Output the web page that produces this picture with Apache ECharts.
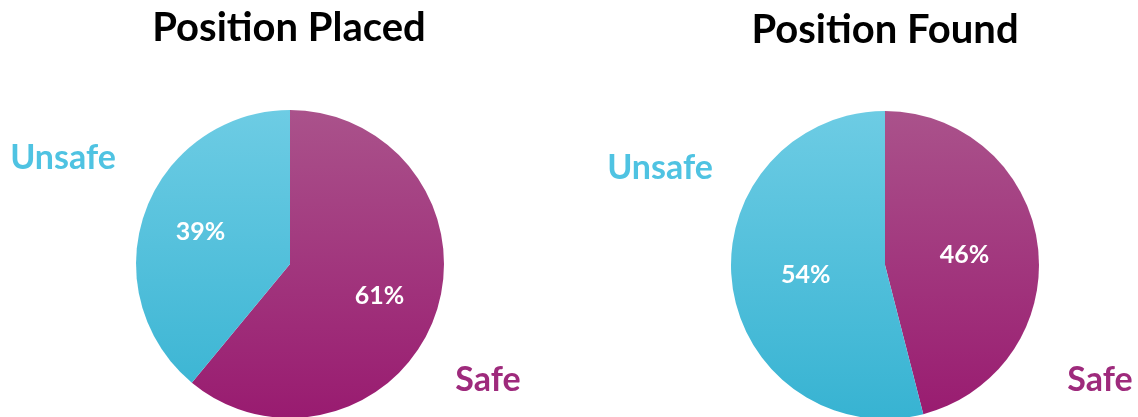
<!DOCTYPE html>
<html>
<head>
<meta charset="utf-8">
<script src="https://cdn.jsdelivr.net/npm/echarts@6/dist/echarts.min.js"></script>
<style>
html,body{margin:0;padding:0;background:#fff;}
#c{width:1138px;height:417px;}
</style>
</head>
<body>
<div id="c"></div>
<script>
// Data
const titles = ['Position Placed', 'Position Found'];
const categories = ['Safe', 'Unsafe'];
const placedValues = [61, 39];
const foundValues = [46, 54];

const FONT = 'Lato, "Open Sans", sans-serif';
const safeTop = '#aa528b', safeBottom = '#991b70';
const unsafeTop = '#6dcce4', unsafeBottom = '#37b3d2';

function grad(top, bottom, cy, r) {
  return { type: 'linear', x: 0, y: cy - r, x2: 0, y2: cy + r, global: true,
    colorStops: [{ offset: 0, color: top }, { offset: 1, color: bottom }] };
}

const pies = [
  { cx: 290, cy: 264, r: 154, values: placedValues, labelR: [30, 154] },
  { cx: 885, cy: 265, r: 154, values: foundValues, labelR: [0, 154] }
];

const series = [];
pies.forEach(p => {
  const data = categories.map((c, i) => ({
    name: c, value: p.values[i],
    itemStyle: { color: i === 0 ? grad(safeTop, safeBottom, p.cy, p.r) : grad(unsafeTop, unsafeBottom, p.cy, p.r) }
  }));
  series.push({
    type: 'pie', center: [p.cx, p.cy], radius: [0, p.r], startAngle: 90, clockwise: true,
    silent: true, animation: false, label: { show: false }, labelLine: { show: false },
    itemStyle: { borderWidth: 0 }, data: data
  });
  series.push({
    type: 'pie', center: [p.cx, p.cy], radius: p.labelR, startAngle: 90, clockwise: true,
    silent: true, animation: false, z: 5,
    itemStyle: { color: 'rgba(0,0,0,0)', borderWidth: 0 },
    label: { show: true, position: 'inside', formatter: '{c}%', color: '#fff',
      fontFamily: FONT, fontWeight: 'bold', fontSize: 25 },
    labelLine: { show: false },
    data: categories.map((c, i) => ({ name: c, value: p.values[i] }))
  });
});

const catLabels = [
  { text: categories[1], x: 63, y: 158, color: '#4fc3e2' },
  { text: categories[0], x: 488, y: 380, color: '#9e2a7c' },
  { text: categories[1], x: 660, y: 168, color: '#4fc3e2' },
  { text: categories[0], x: 1100, y: 380, color: '#9e2a7c' }
];

const chart = echarts.init(document.getElementById('c'), null, { renderer: 'canvas' });
chart.setOption({
  backgroundColor: '#fff',
  animation: false,
  graphic: [
    { type: 'text', x: 289, y: 28, style: { text: titles[0], fill: '#000', font: 'bold 40px ' + FONT, textAlign: 'center', textVerticalAlign: 'middle' } },
    { type: 'text', x: 885, y: 30, style: { text: titles[1], fill: '#000', font: 'bold 40px ' + FONT, textAlign: 'center', textVerticalAlign: 'middle' } }
  ].concat(catLabels.map(l => ({
    type: 'text', x: l.x, y: l.y,
    style: { text: l.text, fill: l.color, font: 'bold 34px ' + FONT, textAlign: 'center', textVerticalAlign: 'middle' }
  }))),
  series: series
});
</script>
</body>
</html>
